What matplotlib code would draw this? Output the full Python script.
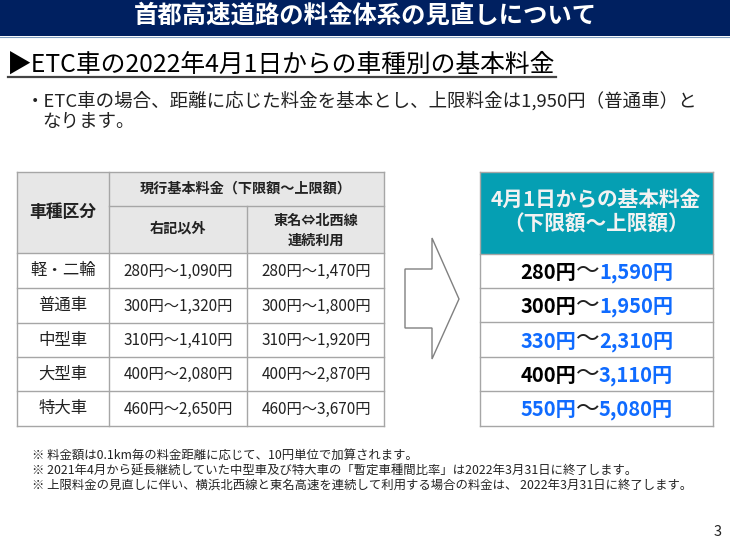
import matplotlib
matplotlib.use('Agg')
import matplotlib.pyplot as plt
from matplotlib.patches import Rectangle, Polygon

plt.rcParams['font.family'] = ['Noto Sans CJK JP', 'DejaVu Sans']

title = '首都高速道路の料金体系の見直しについて'
heading = '▶ETC車の2022年4月1日からの車種別の基本料金'
body = ['・ETC車の場合、距離に応じた料金を基本とし、上限料金は1,950円（普通車）と', 'なります。']
notes = ['※ 料金額は0.1km毎の料金距離に応じて、10円単位で加算されます。',
         '※ 2021年4月から延長継続していた中型車及び特大車の「暫定車種間比率」は2022年3月31日に終了します。',
         '※ 上限料金の見直しに伴い、横浜北西線と東名高速を連続して利用する場合の料金は、 2022年3月31日に終了します。']

car_types = ['軽・二輪', '普通車', '中型車', '大型車', '特大車']
current_other = ['280円～1,090円', '300円～1,320円', '310円～1,410円', '400円～2,080円', '460円～2,650円']
current_tomei = ['280円～1,470円', '300円～1,800円', '310円～1,920円', '400円～2,870円', '460円～3,670円']
new_lower = ['280円', '300円', '330円', '400円', '550円']
new_upper = ['1,590円', '1,950円', '2,310円', '3,110円', '5,080円']
lower_changed = [False, False, True, False, True]

NAVY = '#002060'
GREY = '#a6a6a6'
HEAD = '#e7e7e7'
TEAL = '#059fb3'
BLUE = '#0f6bff'
INK = '#222222'

fig = plt.figure(figsize=(7.3, 5.47), dpi=100)
ax = fig.add_axes([0, 0, 1, 1])
ax.set_xlim(0, 730)
ax.set_ylim(547, 0)
ax.axis('off')

# top band
ax.add_patch(Rectangle((0, 0), 730, 36, fc=NAVY, ec='none'))
ax.plot([0, 730], [36.5, 36.5], color='#7f9fc0', lw=0.8)
ax.text(365, 16, title, color='white', fontsize=17.55, fontweight='bold', ha='center', va='center')

ax.text(7, 65, heading, color='black', fontsize=17.85, ha='left', va='center')
ax.plot([8, 556], [77, 77], color='#444444', lw=1.6)

ax.text(26, 100.5, body[0], color=INK, fontsize=13.3, ha='left', va='center')
ax.text(42, 121.5, body[1], color=INK, fontsize=13.3, ha='left', va='center')

# left table
xs = [17, 109, 247, 384]
ys = [172, 206, 253, 288, 323, 357, 391, 426]
ax.add_patch(Rectangle((xs[0], ys[0]), xs[3] - xs[0], ys[2] - ys[0], fc=HEAD, ec='none'))
for y in ys:
    x0 = xs[1] if y == ys[1] else xs[0]
    ax.plot([x0, xs[3]], [y, y], color=GREY, lw=1.0)
ax.plot([xs[0], xs[0]], [ys[0], ys[-1]], color=GREY, lw=1.0)
ax.plot([xs[1], xs[1]], [ys[0], ys[-1]], color=GREY, lw=1.0)
ax.plot([xs[2], xs[2]], [ys[1], ys[-1]], color=GREY, lw=1.0)
ax.plot([xs[3], xs[3]], [ys[0], ys[-1]], color=GREY, lw=1.0)

ax.text(63, 212, '車種区分', fontsize=12.1, fontweight='bold', color=INK, ha='center', va='center')
ax.text(246, 188.5, '現行基本料金（下限額～上限額）', fontsize=10.2, fontweight='bold', color=INK, ha='center', va='center')
ax.text(178, 229, '右記以外', fontsize=10.2, fontweight='bold', color=INK, ha='center', va='center')
ax.text(316, 220.5, '東名⇔北西線', fontsize=10.2, fontweight='bold', color=INK, ha='center', va='center')
ax.text(316, 241, '連続利用', fontsize=10.2, fontweight='bold', color=INK, ha='center', va='center')

for i in range(len(car_types)):
    yc = (ys[i + 2] + ys[i + 3]) / 2
    ax.text(63, yc, car_types[i], fontsize=11.8, color=INK, ha='center', va='center')
    ax.text(178, yc + 0.5, current_other[i], fontsize=11, color=INK, ha='center', va='center')
    ax.text(316, yc + 0.5, current_tomei[i], fontsize=11, color=INK, ha='center', va='center')

# arrow
ax.add_patch(Polygon([(405, 269), (432, 269), (432, 238), (459, 299), (432, 359), (432, 328), (405, 328)],
                     closed=True, fc='white', ec='#808080', lw=1.0))

# right table
rx = [480, 713]
ry = [172, 254, 288, 322, 357, 391, 426]
ax.add_patch(Rectangle((rx[0], ry[0]), rx[1] - rx[0], ry[1] - ry[0], fc=TEAL, ec='none'))
ax.text(596, 199, '4月1日からの基本料金', color='#f2f2f2', fontsize=14.9, fontweight='bold', ha='center', va='center')
ax.text(596, 224, '（下限額～上限額）', color='#f2f2f2', fontsize=14.9, fontweight='bold', ha='center', va='center')
for y in ry:
    ax.plot(rx, [y, y], color=GREY, lw=1.0)
for x in rx:
    ax.plot([x, x], [ry[0], ry[-1]], color=GREY, lw=1.0)

for i in range(len(new_lower)):
    yc = (ry[i + 1] + ry[i + 2]) / 2 + 1.5
    ax.text(576, yc, new_lower[i], color=BLUE if lower_changed[i] else 'black', fontsize=14.5,
            fontweight='bold', ha='right', va='center')
    ax.text(588, yc - 1, '～', color=INK, fontsize=17, ha='center', va='center')
    ax.text(599, yc, new_upper[i], color=BLUE, fontsize=14.5, fontweight='bold', ha='left', va='center')

for y, note in zip([456, 471, 485], notes):
    ax.text(32, y, note, color=INK, fontsize=8.9, ha='left', va='center')

ax.text(722, 532, '3', color=INK, fontsize=10.5, ha='right', va='center')

fig.savefig('out.png', dpi=100)
